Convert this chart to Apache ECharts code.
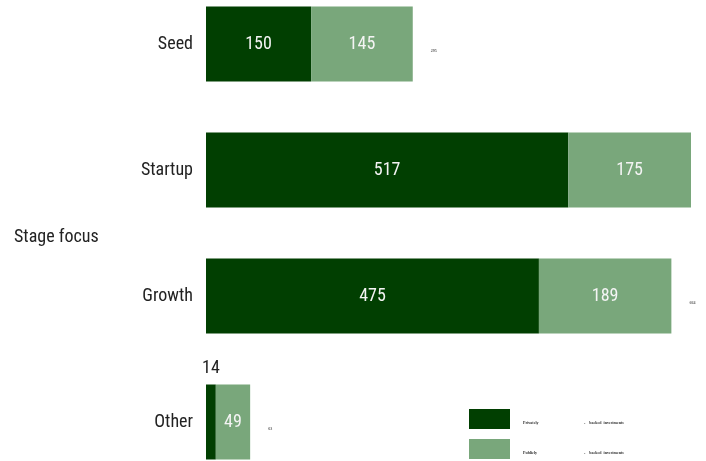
<!DOCTYPE html>
<html>
<head>
<meta charset="utf-8">
<script src="https://cdn.jsdelivr.net/npm/echarts@6/dist/echarts.min.js"></script>
<style>
  html, body { margin: 0; padding: 0; background: #fff; }
  #chart { width: 706px; height: 461px; }
</style>
</head>
<body>
<div id="chart"></div>
<script>
// Investment counts by stage focus
const stages = ['Seed', 'Startup', 'Growth', 'Other'];
const privatelyBacked = [150, 517, 475, 14];
const publiclyBacked = [145, 175, 189, 49];
const totals = [295, 692, 664, 63];
const seriesNames = ['Privately-backed investments', 'Publicly-backed investments'];

const FONT = "'Roboto Condensed', 'Liberation Sans Narrow', 'Arial Narrow', Roboto, sans-serif";
const SERIF = "'Liberation Serif', serif";
const DARK = '#013f01';
const LIGHT = '#79a77b';

const chart = echarts.init(document.getElementById('chart'), null, { renderer: 'canvas' });

// Segments too narrow for an inside label get their value drawn above the bar
const privData = privatelyBacked.map(v => v < 30
  ? { value: v, label: { position: 'top', color: '#222', distance: 7 } }
  : v);

chart.setOption({
  animation: false,
  title: {
    text: 'Stage focus',
    left: 14, top: 228, padding: 0,
    textStyle: { fontFamily: FONT, fontSize: 18, fontWeight: 'normal', color: '#222' }
  },
  legend: {
    orient: 'vertical',
    left: 469, top: 409, padding: 0,
    itemWidth: 41, itemHeight: 20, itemGap: 10,
    icon: 'rect',
    data: seriesNames,
    formatter: name => {
      const [head, tail] = name.split('-');
      return '{a|' + head + '}{b|-}{c|' + tail.replace('backed', 'backed ') + '}';
    },
    textStyle: {
      fontFamily: SERIF, fontSize: 4, fontWeight: 'bold', color: '#333',
      padding: [8, 0, 0, 8],
      rich: {
        a: { fontSize: 4, fontWeight: 'bold', fontFamily: SERIF, color: '#333', width: 61 },
        b: { fontSize: 4, fontFamily: SERIF, color: '#333', padding: [0, 4, 0, 0] },
        c: { fontSize: 4, fontWeight: 'bold', fontFamily: SERIF, color: '#333' }
      }
    }
  },
  grid: { left: 206, top: -19, bottom: -24, right: 15, containLabel: false, outerBoundsMode: 'none' },
  xAxis: {
    type: 'value', min: 0, max: 692,
    show: false
  },
  yAxis: {
    type: 'category',
    data: stages,
    inverse: true,
    axisLine: { show: false },
    axisTick: { show: false },
    splitLine: { show: false },
    axisLabel: { fontFamily: FONT, fontSize: 18, color: '#222', margin: 13 }
  },
  series: [
    {
      name: seriesNames[0],
      type: 'bar', stack: 'total', barWidth: 75,
      itemStyle: { color: DARK },
      label: { show: true, position: 'inside', color: '#f4f4f4', fontFamily: FONT, fontSize: 18 },
      data: privData
    },
    {
      name: seriesNames[1],
      type: 'bar', stack: 'total', barWidth: 75,
      itemStyle: { color: LIGHT },
      label: { show: true, position: 'inside', color: '#f4f4f4', fontFamily: FONT, fontSize: 18 },
      data: publiclyBacked
    },
    {
      // Row totals as small marks right of each bar
      name: 'Total',
      type: 'scatter',
      symbolSize: 0,
      silent: true,
      label: {
        show: true, position: 'right', distance: 0, offset: [18, 7],
        fontFamily: SERIF, fontSize: 4, fontWeight: 'bold', color: '#333',
        formatter: p => p.value[0]
      },
      data: totals.map((t, i) => [t, stages[i]])
    }
  ]
});
</script>
</body>
</html>
